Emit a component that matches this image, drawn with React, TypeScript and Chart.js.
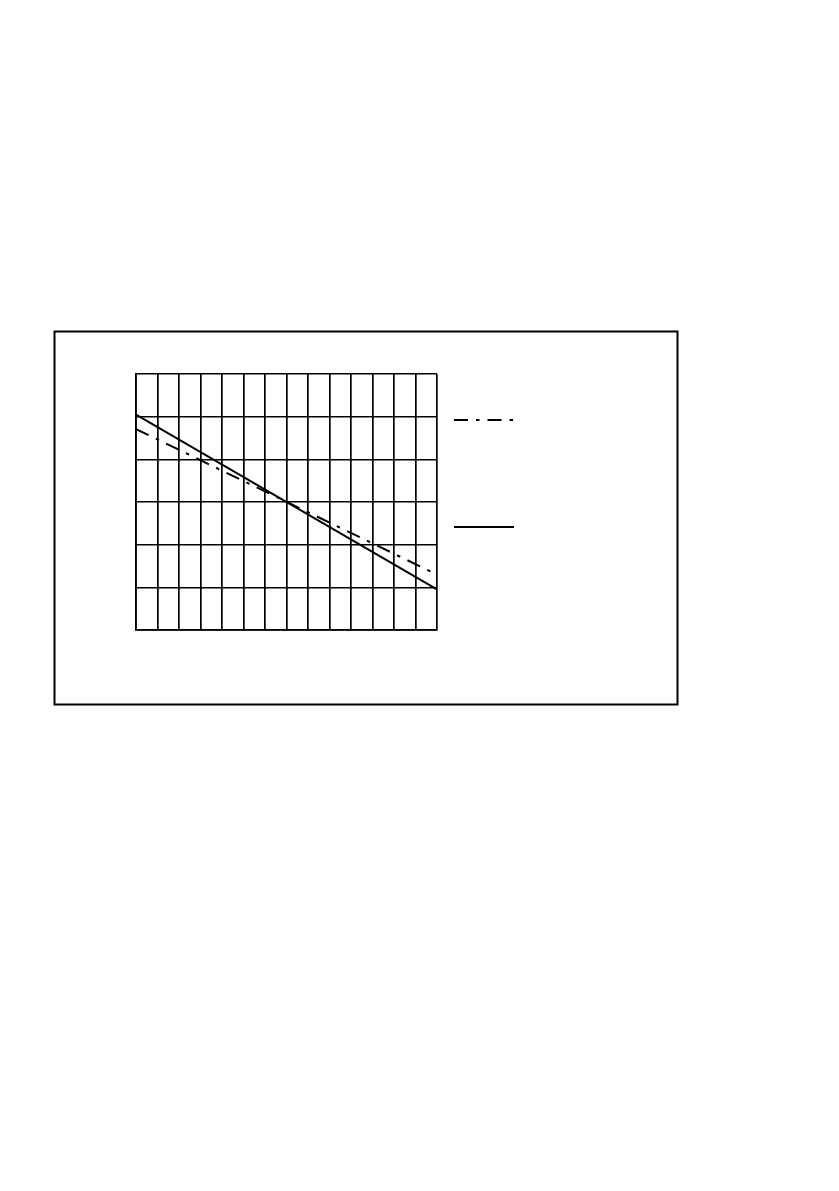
import React, { useEffect, useRef } from "react";
import { Chart, registerables } from "chart.js";

Chart.register(...registerables);

const xValues = [0, 14];
const solidValues = [5.05, 0.95];
const dashDotValues = [4.71, 1.3];
const xMax = 14;
const yMax = 6;

const framePlugin = {
  id: "frameAndLegend",
  beforeDraw(chart: any) {
    const ctx = chart.ctx;
    ctx.save();
    ctx.fillStyle = "#ffffff";
    ctx.fillRect(0, 0, chart.width, chart.height);
    ctx.strokeStyle = "#000";
    ctx.lineWidth = 2;
    ctx.strokeRect(54.5, 331.5, 623, 373);
    ctx.restore();
  },
  afterDraw(chart: any) {
    const ctx = chart.ctx;
    const a = chart.chartArea;
    const x0 = a.right + 17;
    const x1 = x0 + 60;
    const ys = [a.top + 46, a.top + 153];
    const order = [0, 1];
    ctx.save();
    order.forEach((di, i) => {
      const ds = chart.data.datasets[di];
      ctx.strokeStyle = ds.borderColor;
      ctx.lineWidth = ds.borderWidth;
      ctx.setLineDash(ds.borderDash || []);
      ctx.beginPath();
      ctx.moveTo(x0, ys[i]);
      ctx.lineTo(x1, ys[i]);
      ctx.stroke();
    });
    ctx.restore();
  },
};

export default function App() {
  const ref = useRef<HTMLCanvasElement | null>(null);
  useEffect(() => {
    if (!ref.current) return;
    const chart = new Chart(ref.current, {
      type: "scatter",
      data: {
        datasets: [
          {
            label: "dash-dot",
            data: xValues.map((x, i) => ({ x, y: dashDotValues[i] })),
            showLine: true,
            borderColor: "#000",
            borderWidth: 2,
            borderDash: [14, 8, 3.5, 8],
            pointRadius: 0,
            fill: false,
          },
          {
            label: "solid",
            data: xValues.map((x, i) => ({ x, y: solidValues[i] })),
            showLine: true,
            borderColor: "#000",
            borderWidth: 2,
            pointRadius: 0,
            fill: false,
          },
        ],
      },
      options: {
        responsive: false,
        animation: false,
        devicePixelRatio: 1,
        layout: { padding: { left: 136, top: 374, right: 402, bottom: 561 } },
        plugins: { legend: { display: false }, tooltip: { enabled: false } },
        scales: {
          x: {
            type: "linear",
            min: 0,
            max: xMax,
            ticks: { display: false, stepSize: 1 },
            grid: { color: "#000", lineWidth: 1.7, drawTicks: false },
            border: { display: true, color: "#000", width: 1.7 },
          },
          y: {
            type: "linear",
            min: 0,
            max: yMax,
            ticks: { display: false, stepSize: 1 },
            grid: { color: "#000", lineWidth: 1.5, drawTicks: false },
            border: { display: true, color: "#000", width: 1.7 },
          },
        },
      },
      plugins: [framePlugin],
    });
    return () => chart.destroy();
  }, []);
  return (
    <div style={{ position: "absolute", left: 0, top: 0, width: 839, height: 1191 }}>
      <canvas ref={ref} width={839} height={1191} style={{ display: "block" }} />
    </div>
  );
}
